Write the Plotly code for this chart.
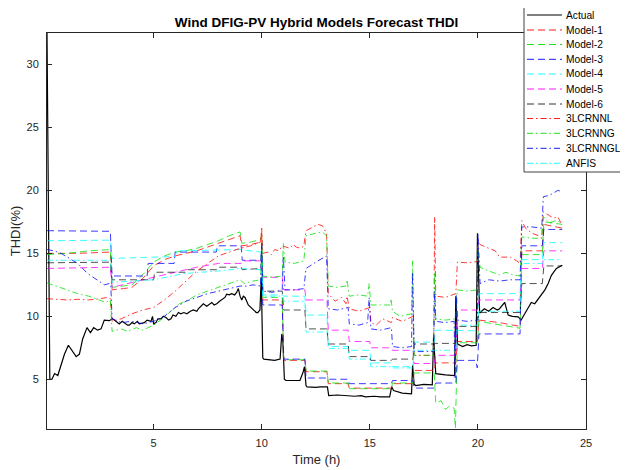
import plotly.graph_objects as go

# ---------------- data (time in h, THDI in %) ----------------
actual_pts = [(0.07, 32.5), (0.2, 5.0), (0.3, 5.0), (0.42, 5.45), (0.57, 5.3), (0.72, 6.1), (0.88, 7.0),
              (1.06, 7.7), (1.21, 7.3), (1.42, 6.8), (1.57, 7.0), (1.72, 8.2), (1.92, 9.1), (2.08, 8.7),
              (2.23, 9.1), (2.41, 8.9), (2.57, 9.0), (2.72, 9.7), (2.95, 9.65), (3.1, 9.8), (3.26, 9.6),
              (3.41, 9.4), (3.55, 9.6), (3.65, 9.5), (3.8, 9.3), (3.88, 9.3), (4.0, 9.5), (4.11, 9.4),
              (4.25, 9.6), (4.34, 9.4), (4.57, 9.5), (4.7, 9.7), (4.88, 9.6), (4.95, 10.0), (5.0, 9.4),
              (5.11, 9.5), (5.2, 9.8), (5.34, 9.8), (5.45, 10.0), (5.57, 9.9), (5.7, 9.7), (5.8, 9.8),
              (5.9, 10.1), (6.03, 10.0), (6.15, 10.3), (6.26, 10.2), (6.4, 10.3), (6.54, 10.2), (6.7, 10.4),
              (6.84, 10.5), (7.0, 10.4), (7.07, 10.6), (7.2, 10.8), (7.3, 11.0), (7.46, 10.8), (7.6, 11.0),
              (7.69, 11.1), (7.8, 10.9), (7.92, 11.0), (8.05, 11.2), (8.15, 11.3), (8.3, 11.5), (8.38, 11.75),
              (8.5, 11.7), (8.61, 11.8), (8.75, 11.7), (8.84, 11.9), (8.92, 12.2), (9.0, 11.6), (9.08, 11.3),
              (9.15, 11.6), (9.23, 11.5), (9.38, 10.9), (9.5, 10.7), (9.61, 10.5), (9.75, 10.3), (9.82, 10.3),
              (9.92, 10.5), (9.98, 13.1), (10.05, 6.7), (10.1, 6.6), (10.3, 6.55), (10.6, 6.5), (10.85, 6.6),
              (10.93, 8.6), (10.98, 8.0), (11.05, 5.0), (11.12, 4.9), (11.5, 4.9), (11.77, 4.9), (11.92, 5.6),
              (11.98, 6.0), (12.05, 4.5), (12.1, 4.4), (12.5, 4.35), (12.7, 4.4), (13.04, 4.4), (13.1, 3.7),
              (13.5, 3.75), (14.04, 3.7), (14.3, 3.65), (14.6, 3.7), (14.8, 3.6), (15.2, 3.65), (15.5, 3.6),
              (15.92, 3.6), (16.01, 4.4), (16.1, 4.1), (16.5, 3.9), (16.93, 3.85), (16.98, 6.1), (17.05, 4.6),
              (17.12, 4.5), (17.5, 4.6), (17.89, 4.55), (17.95, 8.4), (18.05, 5.45), (18.5, 5.35), (18.92, 5.3),
              (18.98, 11.6), (19.06, 7.8), (19.3, 7.6), (19.5, 7.75), (19.7, 7.65), (19.92, 7.7), (19.98, 16.6),
              (20.08, 10.26), (20.3, 10.6), (20.5, 10.4), (20.7, 10.7), (20.9, 10.5), (21.0, 10.6), (21.24, 11.1),
              (21.4, 10.1), (21.6, 10.0), (21.86, 9.95), (22.0, 9.7), (22.2, 10.3), (22.47, 11.1), (22.63, 11.0),
              (22.86, 11.5), (23.1, 12.1), (23.25, 12.6), (23.4, 13.25), (23.63, 13.8), (23.75, 13.9), (23.9, 14.05)]

model1_pts = [(0.07, 15.0), (1.5, 15.0), (3.0, 15.1), (3.08, 12.1), (3.6, 12.2), (4.0, 12.3), (4.5, 13.0),
              (5.0, 14.0), (5.5, 14.5), (6.0, 14.8), (6.5, 15.0), (7.0, 15.2), (7.5, 15.5), (8.0, 15.8),
              (8.5, 16.1), (9.0, 16.4), (9.08, 15.6), (9.5, 15.7), (9.95, 15.9), (10.0, 16.8), (10.05, 11.3),
              (10.95, 11.3), (11.02, 6.5), (12.0, 6.5), (12.05, 5.6), (13.02, 5.6), (13.08, 4.65), (14.0, 4.65),
              (14.05, 4.3), (16.0, 4.3), (16.05, 4.65), (17.0, 4.65), (17.05, 5.7), (17.98, 5.7), (18.05, 6.3),
              (18.98, 6.3), (19.05, 8.0), (19.98, 8.0), (20.05, 9.7), (21.0, 9.5), (21.95, 9.2), (22.03, 15.2),
              (22.98, 15.2), (23.05, 17.3), (23.9, 17.0)]

model2_pts = [(0.07, 14.9), (1.0, 15.0), (2.0, 15.2), (3.0, 15.3), (3.08, 12.3), (3.6, 12.4), (4.0, 12.5),
              (4.5, 13.3), (5.0, 14.3), (5.5, 14.8), (6.0, 15.1), (6.5, 15.2), (7.0, 15.4), (7.5, 15.7),
              (8.0, 16.0), (8.5, 16.4), (9.0, 16.7), (9.08, 15.8), (9.5, 15.9), (9.95, 16.1), (10.0, 16.5),
              (10.05, 11.5), (10.95, 11.5), (11.02, 6.55), (12.0, 6.55), (12.05, 5.65), (13.02, 5.65),
              (13.08, 4.7), (14.0, 4.7), (14.05, 4.25), (16.0, 4.25), (16.05, 4.7), (17.0, 4.7), (17.05, 5.5),
              (17.98, 5.5), (18.05, 3.1), (18.3, 3.3), (18.5, 2.6), (18.7, 2.9), (18.9, 2.7), (18.96, 1.1),
              (19.05, 7.9), (19.98, 7.9), (20.05, 9.6), (21.0, 9.3), (21.95, 9.05), (22.03, 14.9), (22.98, 14.9),
              (23.05, 17.5), (23.9, 17.3)]

model3_pts = [(0.07, 16.8), (3.0, 16.75), (3.08, 13.2), (4.7, 13.2), (4.75, 14.2), (5.95, 14.2), (6.0, 15.1),
              (7.9, 15.1), (7.95, 15.6), (9.05, 15.6), (9.1, 14.45), (9.95, 14.45), (10.0, 15.5), (10.05, 10.9),
              (10.95, 10.9), (11.02, 6.6), (12.0, 6.6), (12.05, 5.1), (13.02, 5.1), (13.08, 5.0), (14.0, 5.0),
              (14.05, 4.65), (16.0, 4.65), (16.05, 4.9), (17.0, 4.9), (17.05, 4.3), (17.98, 4.3), (18.05, 4.7),
              (18.98, 4.7), (19.05, 6.5), (19.9, 6.5), (19.97, 5.9), (20.05, 8.6), (21.95, 8.6), (22.03, 15.6),
              (22.98, 15.6), (23.05, 16.9), (23.9, 16.9)]

model4_pts = [(0.07, 16.0), (3.0, 16.05), (3.08, 14.6), (5.0, 14.7), (6.0, 14.75), (6.05, 15.2), (9.0, 15.3),
              (9.95, 15.1), (10.0, 15.0), (10.05, 11.7), (10.95, 11.7), (11.02, 11.6), (12.0, 11.6),
              (12.05, 10.1), (13.02, 10.1), (13.08, 7.6), (14.0, 7.6), (14.05, 7.3), (15.0, 7.3), (15.05, 6.3),
              (16.0, 6.3), (16.05, 6.0), (17.0, 6.0), (17.05, 7.95), (17.98, 7.95), (18.05, 8.9), (18.98, 8.9),
              (19.05, 8.85), (19.98, 8.85), (20.05, 11.8), (21.95, 11.8), (22.03, 14.5), (22.98, 14.5),
              (23.05, 15.85), (23.9, 15.85)]

model5_pts = [(0.07, 13.8), (3.0, 13.9), (3.08, 12.3), (4.0, 12.7), (5.0, 13.1), (6.0, 13.5), (7.0, 13.9),
              (8.0, 14.2), (9.05, 14.2), (9.1, 14.4), (9.95, 14.4), (10.0, 14.5), (10.05, 13.1), (10.95, 13.1),
              (11.02, 12.1), (12.0, 12.1), (12.05, 11.3), (13.02, 11.3), (13.08, 8.9), (14.0, 8.9), (14.05, 8.0),
              (15.0, 8.0), (15.05, 7.5), (16.0, 7.5), (16.05, 7.3), (17.0, 7.3), (17.05, 6.25), (17.98, 6.25),
              (18.05, 6.9), (18.98, 6.9), (19.05, 10.5), (19.98, 10.5), (20.05, 11.3), (21.95, 11.3),
              (22.03, 13.8), (22.98, 13.8), (23.05, 15.2), (23.9, 15.2)]

model6_pts = [(0.07, 14.25), (3.0, 14.3), (3.08, 12.9), (5.0, 12.9), (5.05, 13.5), (6.5, 13.5), (6.55, 13.7),
              (8.0, 13.7), (8.05, 13.9), (9.05, 13.9), (9.1, 13.7), (9.95, 13.8), (10.0, 14.5), (10.05, 12.0),
              (10.95, 12.0), (11.02, 10.5), (12.0, 10.5), (12.05, 9.0), (13.02, 9.0), (13.08, 7.8), (14.0, 7.8),
              (14.05, 6.8), (15.0, 6.8), (15.05, 6.5), (16.0, 6.5), (16.05, 6.6), (17.0, 6.6), (17.05, 7.8),
              (17.98, 7.8), (18.05, 7.85), (18.98, 7.85), (19.05, 9.2), (19.98, 9.2), (20.05, 10.3),
              (21.95, 10.3), (22.03, 12.6), (22.98, 12.6), (23.05, 14.0), (23.9, 14.0)]

lcrnnl_pts = [(0.07, 11.4), (0.5, 11.35), (1.0, 11.3), (1.5, 11.35), (2.0, 11.3), (2.5, 11.4), (2.9, 11.5),
              (3.0, 11.4), (3.08, 9.6), (3.5, 9.8), (4.0, 10.2), (4.5, 10.5), (5.0, 10.7), (5.5, 11.3),
              (6.0, 12.0), (6.5, 12.8), (7.0, 13.6), (7.5, 14.2), (8.0, 14.8), (8.5, 15.1), (9.0, 15.4),
              (9.5, 15.6), (9.95, 15.9), (10.0, 17.0), (10.05, 15.0), (10.3, 15.1), (10.45, 14.9), (10.6, 15.3),
              (10.8, 15.2), (10.95, 15.6), (11.3, 15.4), (11.45, 15.7), (11.6, 15.5), (11.8, 15.4), (11.95, 15.6),
              (12.05, 16.8), (12.3, 17.0), (12.6, 17.3), (12.8, 17.2),
              (13.0, 16.6), (13.08, 11.8), (13.4, 11.2), (13.7, 11.5), (13.9, 11.0), (13.95, 11.6), (14.05, 10.6),
              (14.5, 10.4), (15.0, 10.7), (15.05, 9.5), (15.3, 9.3), (15.6, 9.8), (16.0, 9.5), (16.05, 9.9),
              (16.5, 9.6), (17.0, 10.0), (17.05, 6.9), (17.95, 6.9), (18.0, 17.9), (18.05, 11.6), (18.5, 11.5),
              (18.98, 11.8), (19.05, 14.3), (19.5, 14.25), (19.98, 14.35), (20.0, 16.0), (20.1, 15.7),
              (20.5, 15.4), (20.8, 15.2), (21.0, 14.7), (21.5, 14.7), (21.8, 14.4), (21.95, 14.2), (22.03, 17.6),
              (22.2, 17.0), (22.5, 16.6), (22.8, 16.4), (22.95, 16.2), (23.03, 18.3), (23.3, 18.0), (23.5, 17.8),
              (23.7, 17.9), (23.9, 17.2)]

lcrnng_pts = [(0.07, 12.65), (0.5, 12.4), (1.0, 12.1), (1.5, 11.8), (2.0, 11.6), (2.5, 11.3), (2.8, 11.1),
              (3.0, 11.3), (3.08, 8.8), (3.5, 9.0), (3.8, 8.8), (4.2, 9.1), (4.5, 8.9), (5.0, 9.3), (5.4, 9.8),
              (5.8, 10.4), (6.2, 11.0), (6.6, 11.3), (7.0, 11.7), (7.5, 12.0), (8.0, 12.3), (8.5, 12.6),
              (9.0, 12.9), (9.2, 12.6), (9.6, 12.8), (9.95, 12.9), (10.0, 16.0), (10.05, 13.2), (10.5, 13.1),
              (10.95, 13.2), (11.0, 15.8), (11.08, 14.3), (11.5, 14.2), (11.95, 14.4), (12.05, 16.4),
              (12.5, 16.6), (12.8, 16.7), (13.0, 16.4), (13.08, 12.4), (13.5, 12.3), (13.9, 12.4), (13.95, 12.9),
              (14.05, 11.6), (14.5, 11.7), (14.9, 11.6), (14.97, 12.6), (15.05, 10.9), (15.5, 10.9),
              (15.95, 10.9), (15.98, 11.4), (16.05, 10.4), (16.4, 10.0), (16.7, 10.1), (16.93, 10.2),
              (16.98, 14.4), (17.05, 6.9), (17.95, 6.9), (18.0, 13.5), (18.05, 9.8), (18.5, 9.7), (18.98, 9.8),
              (19.05, 12.1), (19.5, 12.0), (19.98, 12.1), (20.0, 15.5), (20.1, 13.9), (20.5, 13.6), (21.0, 13.3),
              (21.3, 13.5), (21.6, 13.3), (21.95, 13.2), (22.03, 16.3), (22.5, 16.2), (22.95, 16.2),
              (23.03, 17.9), (23.3, 17.4), (23.6, 17.6), (23.9, 17.4)]

lcrnngl_pts = [(0.07, 15.3), (0.4, 15.2), (0.72, 15.0), (1.1, 14.6), (1.49, 14.2), (1.95, 13.4), (2.41, 12.9),
               (2.72, 12.5), (2.95, 12.6), (3.02, 12.5), (3.08, 9.8), (3.5, 9.5), (4.0, 9.6), (4.5, 9.4),
               (5.0, 9.6), (5.5, 10.0), (6.0, 10.7), (6.5, 11.2), (7.0, 11.5), (7.5, 11.8), (8.0, 12.0),
               (8.5, 12.2), (9.0, 12.4), (9.3, 12.4), (9.6, 12.5), (9.95, 12.4), (10.0, 15.8), (10.05, 12.0),
               (10.5, 11.9), (10.95, 12.1), (11.0, 14.8), (11.08, 12.1), (11.5, 12.1), (11.95, 12.2),
               (12.05, 13.8), (12.5, 14.3), (13.0, 14.8), (13.08, 10.6), (13.5, 10.5), (14.0, 10.7),
               (14.05, 9.4), (14.5, 9.3), (14.9, 9.5), (14.97, 11.5), (15.05, 9.0), (15.5, 8.9), (16.0, 9.1),
               (16.05, 7.6), (16.5, 7.5), (16.93, 7.6), (16.98, 13.5), (17.05, 7.2), (17.95, 7.2), (18.0, 12.0),
               (18.05, 9.6), (18.5, 9.5), (18.9, 9.6), (18.95, 5.0), (19.0, 11.7), (19.05, 9.7), (19.5, 9.6),
               (19.98, 9.7), (20.0, 16.6), (20.1, 12.6), (20.5, 12.9), (21.0, 12.8), (21.5, 12.9),
               (21.95, 12.9), (22.03, 17.1), (22.5, 17.1), (22.95, 17.0), (23.03, 19.5), (23.3, 19.6),
               (23.5, 19.8), (23.7, 20.0), (23.9, 19.9)]

anfis_pts = [(0.07, 14.45), (3.0, 14.45), (3.08, 12.7), (5.0, 12.9), (6.4, 13.4), (8.0, 13.6), (9.0, 13.8),
             (9.95, 13.7), (10.0, 14.3), (10.05, 11.6), (10.95, 11.6), (11.02, 11.2), (12.0, 11.2),
             (12.05, 8.75), (13.02, 8.75), (13.08, 7.45), (14.0, 7.45), (14.05, 6.6), (15.0, 6.6), (15.05, 6.0),
             (16.0, 6.0), (16.05, 5.9), (17.0, 5.9), (17.05, 7.3), (17.98, 7.3), (18.05, 7.3), (18.98, 7.3),
             (19.05, 9.3), (19.98, 9.3), (20.05, 10.4), (21.95, 10.4), (22.03, 14.2), (22.98, 14.2),
             (23.05, 14.5), (23.9, 14.5)]

series_names = ["Actual", "Model-1", "Model-2", "Model-3", "Model-4", "Model-5", "Model-6",
                "3LCRNNL", "3LCRNNG", "3LCRNNGL", "ANFIS"]
series_data = [actual_pts, model1_pts, model2_pts, model3_pts, model4_pts, model5_pts, model6_pts,
               lcrnnl_pts, lcrnng_pts, lcrnngl_pts, anfis_pts]

x_ticks = [5, 10, 15, 20, 25]
y_ticks = [5, 10, 15, 20, 25, 30]

# ---------------- styles ----------------
DASH = "7px,4px"
DASHDOT = "6px,3px,1.5px,3px"
styles = [("#000000", "solid", 1.2),
          ("#ff0000", DASH, 0.9), ("#00e000", DASH, 0.9), ("#0000ff", DASH, 0.9),
          ("#00ffff", DASH, 0.9), ("#ff00ff", DASH, 0.9), ("#000000", DASH, 0.8),
          ("#ff0000", DASHDOT, 0.9), ("#00e000", DASHDOT, 0.9), ("#0000ff", DASHDOT, 0.9),
          ("#00ffff", DASHDOT, 0.9)]

# The page body adds an 8 px margin, so window-pixel positions are converted with PAGE_OFF.
PAGE_OFF = 8
FIG_W, FIG_H = 620, 462
M_L, M_R, M_T, M_B = 39, 42, 25, 41
PW = FIG_W - M_L - M_R
PH = FIG_H - M_T - M_B


def px_x(px):
    """window pixel -> paper x"""
    return (px - PAGE_OFF - M_L) / PW


def px_y(py):
    """window pixel -> paper y"""
    return (FIG_H - M_B - (py - PAGE_OFF)) / PH


FONT = "Liberation Sans, Arial, Helvetica, sans-serif"
AX = "#262626"

fig = go.Figure()
for name, pts, (col, dash, w) in zip(series_names, series_data, styles):
    fig.add_trace(go.Scatter(x=[p[0] for p in pts], y=[p[1] for p in pts], mode="lines", name=name,
                             line=dict(color=col, dash=dash, width=w), showlegend=False,
                             opacity=0.85 if name != "Actual" else 1.0))

# ---------------- MATLAB-style legend box ----------------
shapes = [dict(type="rect", xref="paper", yref="paper", x0=px_x(524), x1=px_x(627), y0=px_y(172), y1=px_y(3),
               fillcolor="white", line=dict(color="#404040", width=1), layer="above")]
annotations = []
row_y = [15, 30, 44.5, 59.3, 74, 89, 104, 118.5, 133.3, 148.3, 163.3]
for name, (col, dash, w), yy in zip(series_names, styles, row_y):
    shapes.append(dict(type="line", xref="paper", yref="paper", x0=px_x(527), x1=px_x(562),
                       y0=px_y(yy), y1=px_y(yy), line=dict(color=col, dash=dash, width=w), layer="above"))
    annotations.append(dict(text=name, xref="paper", yref="paper", x=px_x(564), y=px_y(yy),
                            xanchor="left", yanchor="middle", showarrow=False,
                            font=dict(family=FONT, size=10.2, color="black")))

axis_common = dict(showline=True, linecolor=AX, linewidth=1, mirror="ticks", ticks="inside", ticklen=5,
                   tickcolor=AX, tickwidth=1, showgrid=False, zeroline=False, automargin=False,
                   tickfont=dict(family=FONT, size=11, color=AX))

fig.update_layout(
    width=FIG_W, height=FIG_H,
    margin=dict(l=M_L, r=M_R, t=M_T, b=M_B),
    paper_bgcolor="white", plot_bgcolor="white",
    font=dict(family=FONT, color=AX),
    title=dict(text="<b>Wind DFIG-PV Hybrid Models Forecast THDI</b>", x=(316.5 - PAGE_OFF) / FIG_W,
               xanchor="center", y=1 - (22.5 - PAGE_OFF) / FIG_H, yanchor="middle",
               font=dict(family=FONT, size=13.5, color="black")),
    xaxis=dict(range=[0.07, 25], tickvals=x_ticks, ticktext=[str(v) for v in x_ticks], ticklabelstandoff=4,
               title=dict(text="Time (h)", font=dict(family=FONT, size=13, color=AX), standoff=6), **axis_common),
    yaxis=dict(range=[1.05, 32.5], tickvals=y_ticks, ticktext=[str(v) for v in y_ticks], ticklabelstandoff=5,
               title=dict(text="THDI(%)", font=dict(family=FONT, size=13, color=AX), standoff=4), **axis_common),
    shapes=shapes,
    annotations=annotations,
)

fig.write_html("out.html")
